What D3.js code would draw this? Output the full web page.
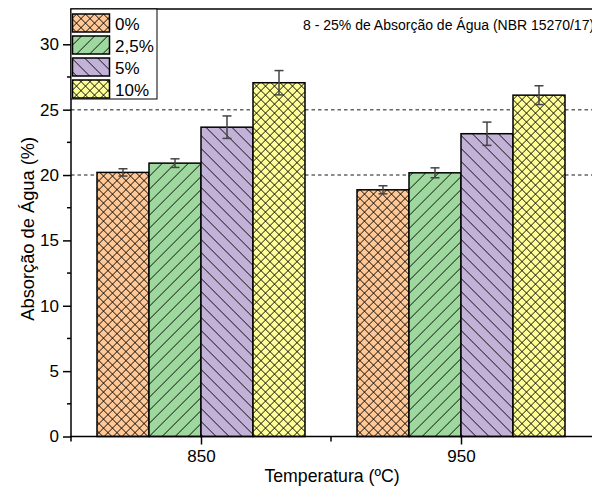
<!DOCTYPE html>
<html><head><meta charset="utf-8">
<script src="https://cdn.jsdelivr.net/npm/d3@7"></script>
<style>body{margin:0;background:#fff}svg{display:block}text{font-family:Arial,"Liberation Sans",sans-serif}</style>
</head><body><div id="c"></div>
<script>
const categories = [850, 950];
const series = ["0%", "2,5%", "5%", "10%"];
const values = [
  [20.2, 18.87],
  [20.91, 20.17],
  [23.66, 23.16],
  [27.06, 26.11]
];
const errors = [
  [0.28, 0.31],
  [0.33, 0.38],
  [0.86, 0.89],
  [0.93, 0.72]
];
const yTicks = [0, 5, 10, 15, 20, 25, 30];
const refLines = [20, 25];
const colors = ["#FFC896", "#9ED89E", "#C2B2D8", "#FFFF99"];
const patterns = ["cross", "fwd", "back", "cross"];

(function(){
const W = 592, H = 488;
const svg = d3.select("#c").append("svg").attr("width", W).attr("height", H);
const pL = 71, pR = 591, pT = 9, pB = 436.5;
const x = d3.scaleLinear().domain([800, 1000]).range([pL, pR]);
const y = d3.scaleLinear().domain([0, 32.7]).range([pB, pT]);
const barW = x(820) - x(800);

const defs = svg.append("defs");
function makePattern(id, type, color) {
  if (type === "cross") {
    const s = 9 / Math.SQRT2;
    const p = defs.append("pattern").attr("id", id).attr("patternUnits", "userSpaceOnUse")
      .attr("width", s).attr("height", s).attr("patternTransform", "rotate(45)");
    p.append("rect").attr("width", s).attr("height", s).attr("fill", color);
    p.append("line").attr("x1", 0).attr("y1", 0).attr("x2", s).attr("y2", 0).attr("stroke", "#000").attr("stroke-width", 1.4);
    p.append("line").attr("x1", 0).attr("y1", 0).attr("x2", 0).attr("y2", s).attr("stroke", "#000").attr("stroke-width", 1.4);
  } else {
    const s = 13 / Math.SQRT2;
    const p = defs.append("pattern").attr("id", id).attr("patternUnits", "userSpaceOnUse")
      .attr("width", s).attr("height", s).attr("patternTransform", type === "fwd" ? "rotate(45)" : "rotate(-45)");
    p.append("rect").attr("width", s).attr("height", s).attr("fill", color);
    p.append("line").attr("x1", 0).attr("y1", 0).attr("x2", 0).attr("y2", s).attr("stroke", "#000").attr("stroke-width", 1.4);
  }
}
series.forEach((s, i) => makePattern("p" + i, patterns[i], colors[i]));

svg.selectAll(".ref").data(refLines).enter().append("line")
  .attr("x1", pL).attr("x2", W).attr("y1", d => y(d)).attr("y2", d => y(d))
  .attr("stroke", "#666").attr("stroke-width", 1.5).attr("stroke-dasharray", "3.5,3");

series.forEach((s, i) => {
  const g = svg.append("g");
  categories.forEach((c, j) => {
    const x0 = x(c) + (i - 2) * barW;
    g.append("rect").attr("x", x0).attr("y", y(values[i][j]))
      .attr("width", barW).attr("height", y(0) - y(values[i][j]))
      .attr("fill", "url(#p" + i + ")").attr("stroke", "#000").attr("stroke-width", 1.5);
  });
});
series.forEach((s, i) => {
  categories.forEach((c, j) => {
    const cx = x(c) + (i - 2) * barW + barW / 2;
    const hi = y(values[i][j] + errors[i][j]), lo = y(values[i][j] - errors[i][j]);
    const g = svg.append("g").attr("stroke", "#444").attr("stroke-width", 1.5);
    g.append("line").attr("x1", cx).attr("x2", cx).attr("y1", hi).attr("y2", lo);
    g.append("line").attr("x1", cx - 4.5).attr("x2", cx + 4.5).attr("y1", hi).attr("y2", hi);
    g.append("line").attr("x1", cx - 4.5).attr("x2", cx + 4.5).attr("y1", lo).attr("y2", lo);
  });
});

const yAxis = d3.axisLeft(y).tickValues(yTicks).tickSize(8).tickPadding(4);
const gy = svg.append("g").attr("transform", `translate(${pL},0)`).call(yAxis);
gy.select(".domain").remove();
gy.selectAll("text").attr("font-size", 17).attr("fill", "#000");
gy.selectAll("line").attr("stroke-width", 1.5);
const yMinor = d3.range(2.5, 32.5, 5);
svg.append("g").selectAll("line").data(yMinor).enter().append("line")
  .attr("x1", pL - 4).attr("x2", pL).attr("y1", d => y(d)).attr("y2", d => y(d))
  .attr("stroke", "#000").attr("stroke-width", 1.5);

const xAxis = d3.axisBottom(x).tickValues(categories).tickSize(8).tickPadding(5).tickFormat(d3.format("d"));
const gx = svg.append("g").attr("transform", `translate(0,${pB})`).call(xAxis);
gx.select(".domain").remove();
gx.selectAll("text").attr("font-size", 17).attr("fill", "#000");
gx.selectAll("line").attr("stroke-width", 1.5);
svg.append("g").selectAll("line").data([800, 900]).enter().append("line")
  .attr("x1", d => x(d)).attr("x2", d => x(d)).attr("y1", pB).attr("y2", pB + 5)
  .attr("stroke", "#000").attr("stroke-width", 1.5);

svg.append("line").attr("x1", pL).attr("x2", pL).attr("y1", pT).attr("y2", pB + 0.75).attr("stroke", "#000").attr("stroke-width", 1.5);
svg.append("line").attr("x1", pL - 0.75).attr("x2", W).attr("y1", pB).attr("y2", pB).attr("stroke", "#000").attr("stroke-width", 1.5);
svg.append("line").attr("x1", pL - 0.75).attr("x2", W).attr("y1", pT).attr("y2", pT).attr("stroke", "#000").attr("stroke-width", 1.5);

svg.append("text").attr("x", 332).attr("y", 482).attr("text-anchor", "middle")
  .attr("font-size", 17.7).text("Temperatura (ºC)");
svg.append("text").attr("transform", `translate(34,${(pT + pB) / 2 + 6}) rotate(-90)`).attr("text-anchor", "middle")
  .attr("font-size", 18.3).text("Absorção de Água (%)");
svg.append("text").attr("x", 303).attr("y", 30).attr("font-size", 14).text("8 - 25% de Absorção de Água (NBR 15270/17)");

const lg = svg.append("g");
lg.append("rect").attr("x", pL).attr("y", pT).attr("width", 86).attr("height", 90)
  .attr("fill", "#fff").attr("stroke", "#000").attr("stroke-width", 1);
series.forEach((s, i) => {
  const yy = 14 + i * 22;
  lg.append("rect").attr("x", 72.5).attr("y", yy).attr("width", 37).attr("height", 18)
    .attr("fill", "url(#p" + i + ")").attr("stroke", "#000").attr("stroke-width", 1.5);
  lg.append("text").attr("x", 115).attr("y", yy + 15.5).attr("font-size", 17).text(s);
});
})();
</script></body></html>
